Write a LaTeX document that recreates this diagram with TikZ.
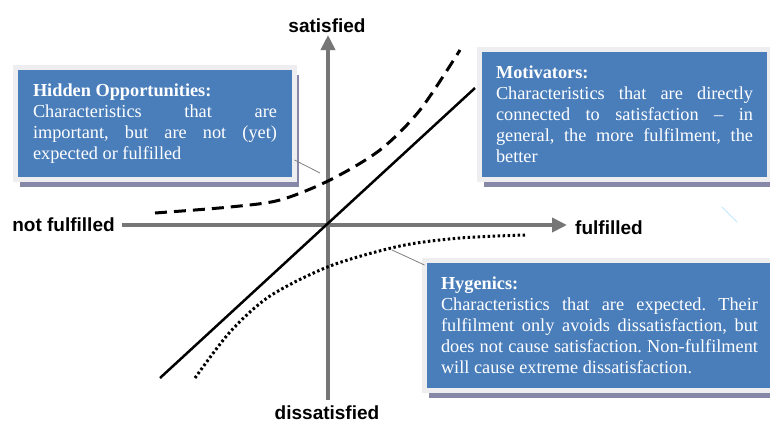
\documentclass[tikz,border=0pt]{standalone}
\usepackage{fontspec}
\setmainfont{Liberation Serif}
\setsansfont{Liberation Sans}
\usetikzlibrary{arrows.meta,shadows}
\frenchspacing
\definecolor{boxblue}{RGB}{74,126,187}
\definecolor{framegray}{RGB}{238,238,241}
\definecolor{shadowgray}{RGB}{135,135,168}
\definecolor{axisgray}{RGB}{118,118,118}
\tikzset{
  infobox/.style={fill=boxblue, draw=framegray, line width=5pt, text=white,
    align=justify, anchor=north west, outer sep=0pt, inner ysep=6pt,
    font=\fontsize{18.3}{21}\selectfont,
    drop shadow={shadow xshift=4pt, shadow yshift=-7pt, fill=shadowgray, opacity=1}},
  axislabel/.style={font=\sffamily\bfseries\fontsize{19}{21}\selectfont, anchor=base, inner sep=0pt},
  axis/.style={axisgray, line width=4.5pt, -{Triangle[length=15pt,width=14pt]}},
  pointer/.style={gray, line width=0.8pt},
}
\begin{document}
\begin{tikzpicture}[x=1pt,y=-1pt]
    \useasboundingbox[fill=white] (0,0) rectangle (770,424);
    %
    \coordinate (o) at (328,225);
    \coordinate (xl) at (122,225);
    \coordinate (xr) at (567,225);
    \coordinate (yb) at (328,400);
    \coordinate (yt) at (328,35);
    \draw[axis] (xl) -- (xr);
    \draw[axis] (yb) -- (yt);
    %
    \node[axislabel] (sat) at (327,32) {satisfied};
    \node[axislabel] (dis) at (327,419) {dissatisfied};
    \node[axislabel] (nf) at (63.5,231) {not fulfilled};
    \node[axislabel] (ff) at (609,234) {fulfilled};
    %
    \draw[line width=2.5pt] (160,378) -- (475,88);
    \draw[line width=3pt, dash pattern=on 12pt off 7pt]
      plot[smooth] coordinates {(155,213) (230,207) (280,200) (330,180) (380,150) (420,110) (460,50)};
    \draw[line width=3pt, dash pattern=on 2.5pt off 2.5pt]
      plot[smooth] coordinates {(195,378) (230,332) (270,296) (330,266) (400,246) (460,238) (525,235)};
    %
    \node[infobox, inner xsep=17.5pt, text width=244pt, minimum height=112pt] (hidden) at (15.5,67.5)
      {\textbf{Hidden Opportunities:}\\ Characteristics that are\linebreak important, but are not (yet)\linebreak expected or fulfilled};
    \node[infobox, inner xsep=16.5pt, text width=257pt, minimum height=130pt] (motiv) at (479.5,49.5)
      {\textbf{Motivators:}\\ Characteristics that are directly\linebreak connected to satisfaction -- in\linebreak general, the more fulfilment, the\linebreak better};
    \node[infobox, inner xsep=16.5pt, text width=317pt, minimum height=130pt] (hyg) at (424.5,260.5)
      {\textbf{Hygenics:}\\ Characteristics that are expected. Their\linebreak fulfilment only avoids dissatisfaction, but\linebreak does not cause satisfaction. Non-fulfilment\linebreak will cause extreme dissatisfaction.};
    %
    \coordinate (hp) at (320,173);
    \coordinate (gp) at (392,250);
    \draw[pointer] (hidden.east |- 0,160) -- (hp);
    \draw[pointer] (gp) -- (hyg.west |- 0,265);
    \draw[cyan!25, line width=1pt] (722,207) -- (737,222);
\end{tikzpicture}
\end{document}
